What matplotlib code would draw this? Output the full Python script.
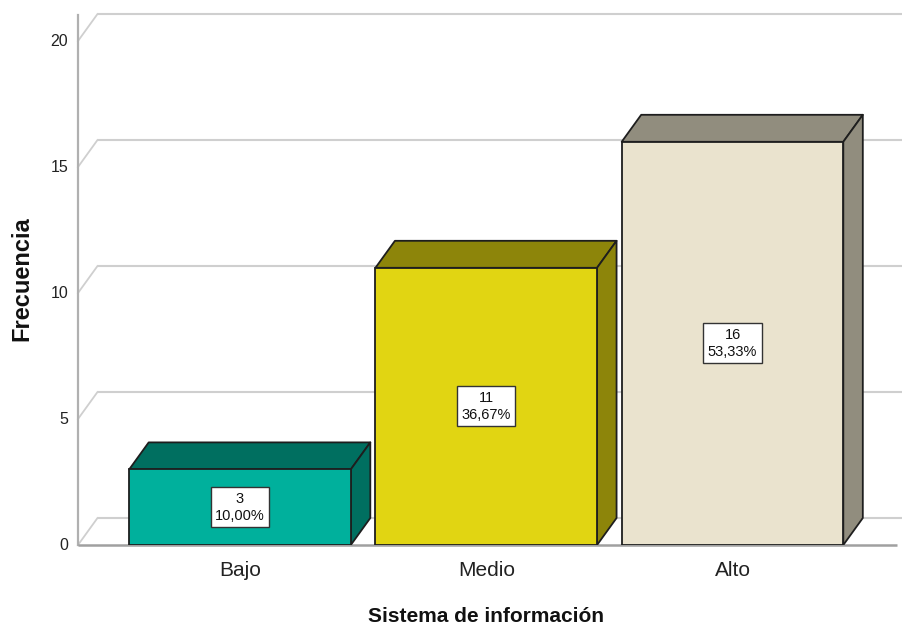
import matplotlib
matplotlib.use("Agg")
import matplotlib.pyplot as plt
from matplotlib.patches import Polygon

plt.rcParams['font.family'] = ['Liberation Sans', 'DejaVu Sans']

# Data
categories = ["Bajo", "Medio", "Alto"]
counts = [3, 11, 16]
percents = ["10,00%", "36,67%", "53,33%"]
yticks = [0, 5, 10, 15, 20]

front_colors = ["#00B09C", "#E1D512", "#EAE3CE"]
shade_colors = ["#006F60", "#8D850A", "#918D7E"]

W, H = 903, 630
fig = plt.figure(figsize=(W / 100, H / 100), dpi=100)

# axes placed in pixel terms: floor at y=545, left wall at x=78
px_left, px_right, px_bottom, px_top = 78, 903, 545, 14
ax = fig.add_axes([px_left / W, (H - px_bottom) / H,
                   (px_right - px_left) / W, (px_bottom - px_top) / H])
ax.set_axis_off()

unit_px = 25.2          # pixels per count
cat_px = 246.25         # pixels per category
x0_px = 240             # pixel centre of first category
xmin = -(x0_px - px_left) / cat_px
xmax = (len(categories) - 1) + (px_right - (x0_px + (len(categories) - 1) * cat_px)) / cat_px
ymax = (px_bottom - px_top) / unit_px
ax.set_xlim(xmin, xmax)
ax.set_ylim(0, ymax)

# depth offset of the pseudo-3D look
ddx = 19.5 / cat_px
ddy = 27 / unit_px

grid_c = "#CFCFCF"
# back wall gridlines and left wall diagonals
for v in yticks:
    ax.plot([xmin + ddx, xmax], [v + ddy, v + ddy], color=grid_c, lw=1.5,
            clip_on=False, zorder=1, solid_capstyle='butt')
    ax.plot([xmin, xmin + ddx], [v, v + ddy], color=grid_c, lw=1.3,
            clip_on=False, zorder=1)
    ax.text(xmin - 10 / cat_px, v, str(v), ha='right', va='center',
            fontsize=11.5, color="#222222")

# left wall vertical line and front floor line
ax.plot([xmin, xmin], [0, ymax - 0.05], color="#B0B0B0", lw=1.6, clip_on=False, zorder=1)
ax.plot([xmin, xmax - 6 / cat_px], [0, 0], color="#A0A0A0", lw=1.8, clip_on=False,
        zorder=1, solid_capstyle='butt')

xs = list(range(len(categories)))
bw = 0.9
edge = "#1E1E1E"
bars = ax.bar(xs, counts, width=bw, color=front_colors, edgecolor=edge,
              linewidth=1.3, zorder=5)

for x, c, fc, sc, pct in zip(xs, counts, front_colors, shade_colors, percents):
    l, r = x - bw / 2, x + bw / 2
    top = Polygon([(l, c), (l + ddx, c + ddy), (r + ddx, c + ddy), (r, c)],
                  closed=True, facecolor=sc, edgecolor=edge, lw=1.3,
                  zorder=4, joinstyle='round')
    side = Polygon([(r, 0), (r + ddx, ddy), (r + ddx, c + ddy), (r, c)],
                   closed=True, facecolor=sc, edgecolor=edge, lw=1.3,
                   zorder=4, joinstyle='round')
    ax.add_patch(top)
    ax.add_patch(side)
    ax.text(x, c / 2, f"{c}\n{pct}", ha='center', va='center', fontsize=10.5,
            linespacing=1.3, color="#111111", zorder=7,
            bbox=dict(boxstyle='square,pad=0.3', facecolor='white',
                      edgecolor='#333333', linewidth=1.0))
    ax.text(x, -25 / unit_px, categories[x], ha='center', va='center',
            fontsize=15, color="#222222")

fig.text(486 / W, 1 - 617 / H, "Sistema de información", ha='center', va='center',
         fontsize=15, fontweight='bold', color="#111111")
fig.text(22 / W, 1 - 279 / H, "Frecuencia", ha='center', va='center',
         rotation=90, fontsize=17, fontweight='bold', color="#111111")

fig.savefig("out.png", dpi=100)
